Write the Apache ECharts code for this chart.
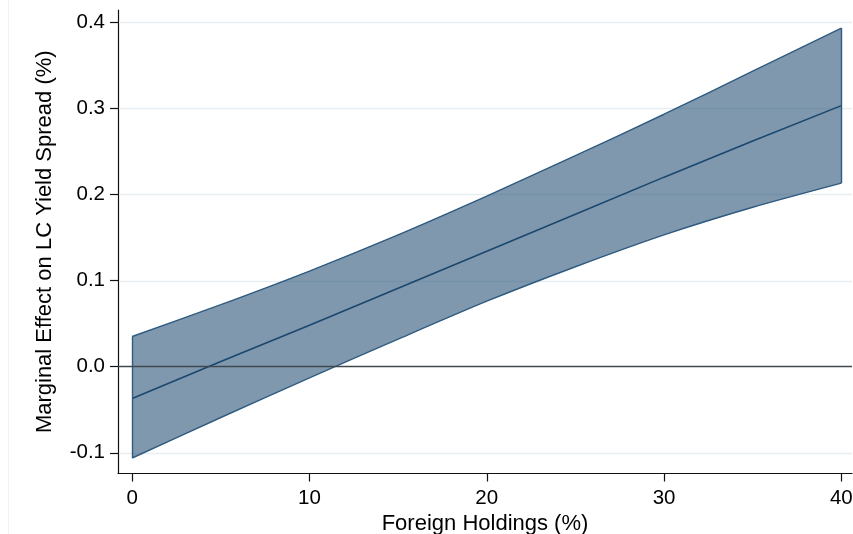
<!DOCTYPE html>
<html>
<head>
<meta charset="utf-8">
<style>
  html, body { margin: 0; padding: 0; background: #fff; }
  #chart { width: 853px; height: 534px; }
</style>
<script src="https://cdn.jsdelivr.net/npm/echarts@6/dist/echarts.min.js"></script>
</head>
<body>
<div id="chart"></div>
<script>
// Foreign holdings (%) at which the marginal effect is evaluated
const holdings = [0, 5, 10, 15, 20, 25, 30, 35, 40];
// Point estimate of the marginal effect (%)
const effect = [-0.037, 0.006, 0.048, 0.091, 0.134, 0.177, 0.220, 0.262, 0.303];
// Upper and lower confidence bounds (%)
const upperCI = [0.035, 0.072, 0.111, 0.153, 0.198, 0.245, 0.293, 0.343, 0.393];
const lowerCI = [-0.106, -0.059, -0.013, 0.032, 0.076, 0.116, 0.153, 0.185, 0.213];

// Axis ticks and labels
const xTicks = [0, 10, 20, 30, 40];
const yTicks = [-0.1, 0, 0.1, 0.2, 0.3, 0.4];
const yTickLabels = ['-0.1', '0.0', '0.1', '0.2', '0.3', '0.4'];

const FONT = '"Liberation Sans", Arial, sans-serif';
const NAVY = '#1a476f';
const EDGE = '#2f5b80';
const FILL = 'rgba(26,71,111,0.56)';
const X_MIN = -0.8, X_MAX = 40.6;
const SMOOTH = 0.25;

const chart = echarts.init(document.getElementById('chart'), null, { renderer: 'canvas' });

const last = holdings.length - 1;
const bandData = [holdings.map((x, i) => [x, upperCI[i], lowerCI[i]])];

// a smoothed edge of the confidence band
function edgeSeries(values, extra) {
  return Object.assign({
    type: 'line',
    z: 3,
    silent: true,
    smooth: SMOOTH,
    showSymbol: false,
    symbol: 'none',
    data: holdings.map((x, i) => [x, values[i]]),
    lineStyle: { color: EDGE, width: 1.4 }
  }, extra || {});
}

chart.setOption({
  animation: false,
  backgroundColor: '#ffffff',
  grid: { left: 118, right: 1, top: 10, bottom: 60.5, containLabel: false, outerBoundsMode: 'none' },
  graphic: [{
    type: 'line',
    shape: { x1: 8.5, y1: 0, x2: 8.5, y2: 534 },
    style: { stroke: '#eef3f5', lineWidth: 1 },
    silent: true
  }],
  xAxis: {
    type: 'value',
    min: X_MIN,
    max: X_MAX,
    name: 'Foreign Holdings (%)',
    nameLocation: 'middle',
    nameGap: 34,
    nameTextStyle: { fontFamily: FONT, fontSize: 22, color: '#000' },
    axisLine: { show: true, onZero: false, lineStyle: { color: '#111', width: 1.2 } },
    axisTick: { show: true, length: 8, customValues: xTicks, lineStyle: { color: '#111', width: 1.2 } },
    axisLabel: { customValues: xTicks, margin: 14, fontFamily: FONT, fontSize: 20.5, color: '#000' },
    splitLine: { show: false }
  },
  yAxis: {
    type: 'value',
    min: -0.124,
    max: 0.414,
    name: 'Marginal Effect on LC Yield Spread (%)',
    nameLocation: 'middle',
    nameGap: 62,
    nameTextStyle: { fontFamily: FONT, fontSize: 22, color: '#000' },
    axisLine: { show: true, onZero: false, lineStyle: { color: '#111', width: 1.2 } },
    axisTick: { show: true, length: 8, customValues: yTicks, lineStyle: { color: '#111', width: 1.2 } },
    axisLabel: {
      customValues: yTicks,
      margin: 13,
      fontFamily: FONT,
      fontSize: 20.5,
      color: '#000',
      formatter: v => {
        const i = yTicks.findIndex(t => Math.abs(t - v) < 1e-9);
        return i >= 0 ? yTickLabels[i] : '';
      }
    },
    splitLine: { show: false }
  },
  series: [
    {
      // horizontal gridlines at the y ticks, beneath the band
      type: 'custom',
      z: 1,
      silent: true,
      data: yTicks.filter(t => t !== 0).map(t => [t]),
      renderItem: (params, api) => {
        const y = api.value(0);
        const a = api.coord([X_MIN, y]);
        const b = api.coord([X_MAX, y]);
        return {
          type: 'line',
          shape: { x1: a[0] + 1, y1: Math.round(a[1]) + 0.5, x2: b[0], y2: Math.round(b[1]) + 0.5 },
          style: { stroke: '#e6eef1', lineWidth: 1.5 }
        };
      },
      encode: { y: 0 }
    },
    {
      // confidence band fill
      type: 'custom',
      z: 2,
      silent: true,
      data: bandData,
      renderItem: (params, api) => {
        const pts = bandData[0];
        const top = pts.map(p => api.coord([p[0], p[1]]));
        const bottom = pts.slice().reverse().map(p => api.coord([p[0], p[2]]));
        return {
          type: 'polygon',
          shape: { points: top.concat(bottom) },
          style: { fill: FILL }
        };
      },
      encode: { x: 0, y: [1, 2] }
    },
    edgeSeries(upperCI),
    edgeSeries(lowerCI, {
      // closing edges of the band at both ends
      markLine: {
        silent: true,
        symbol: 'none',
        label: { show: false },
        lineStyle: { color: EDGE, width: 1.4, type: 'solid' },
        data: [
          [{ coord: [holdings[0], lowerCI[0]] }, { coord: [holdings[0], upperCI[0]] }],
          [{ coord: [holdings[last], lowerCI[last]] }, { coord: [holdings[last], upperCI[last]] }]
        ]
      }
    }),
    {
      // point estimate
      type: 'line',
      z: 4,
      silent: true,
      data: holdings.map((x, i) => [x, effect[i]]),
      showSymbol: false,
      symbol: 'none',
      lineStyle: { color: NAVY, width: 1.6 },
      markLine: {
        silent: true,
        symbol: 'none',
        label: { show: false },
        lineStyle: { color: '#40484f', width: 1.4, type: 'solid' },
        data: [{ yAxis: 0 }]
      }
    }
  ]
});
</script>
</body>
</html>
